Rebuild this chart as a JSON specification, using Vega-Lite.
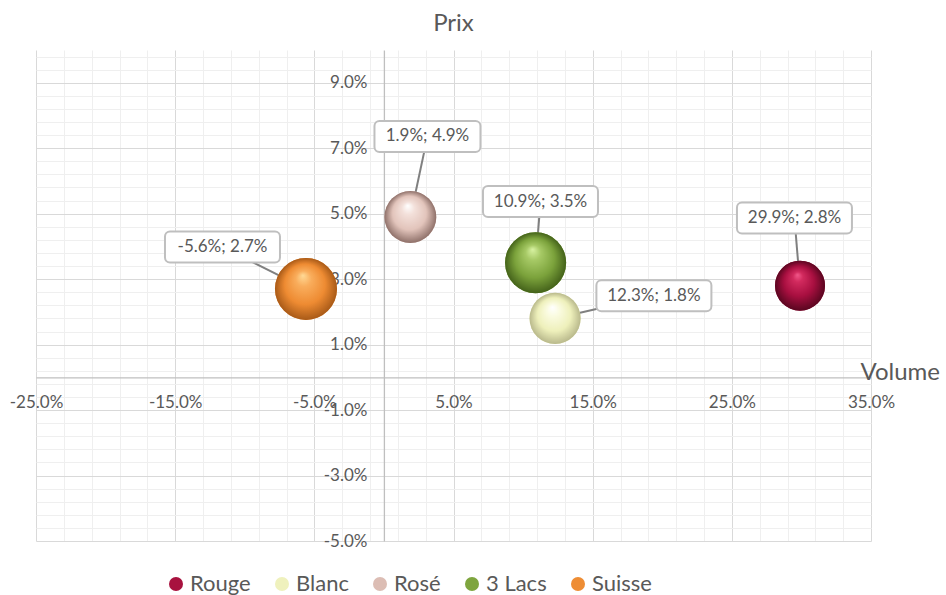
{
  "$schema": "https://vega.github.io/schema/vega-lite/v6.json",
  "width": 835,
  "height": 491,
  "autosize": {"type": "none"},
  "padding": {"left": 36, "top": 50, "right": 75, "bottom": 54},
  "background": "white",
  "config": {"view": {"stroke": null}, "font": "Lato"},
  "title": {"text": "Prix", "font": "Lato", "fontSize": 24, "fontWeight": "normal", "color": "#595959", "anchor": "middle", "offset": 12},
  "data": {
    "values": [
      {"serie": "Rouge", "volume": 0.299, "prix": 0.028, "taille": 65, "lx": 0.295, "ly": 0.0487},
      {"serie": "Blanc", "volume": 0.123, "prix": 0.018, "taille": 68, "lx": 0.194, "ly": 0.0249},
      {"serie": "Rosé", "volume": 0.019, "prix": 0.049, "taille": 70, "lx": 0.0313, "ly": 0.0736},
      {"serie": "3 Lacs", "volume": 0.109, "prix": 0.035, "taille": 97, "lx": 0.1125, "ly": 0.0537},
      {"serie": "Suisse", "volume": -0.056, "prix": 0.027, "taille": 100, "lx": -0.116, "ly": 0.0398}
    ]
  },
  "transform": [
    {"calculate": "replace(format(datum.volume, '.1%') + '; ' + format(datum.prix, '.1%'), '−', '-')", "as": "label"}
  ],
  "layer": [
    {
      "mark": {"type": "rule", "color": "#808080", "strokeWidth": 2},
      "encoding": {
        "x": {
          "field": "volume", "type": "quantitative",
          "scale": {"domain": [-0.25, 0.35], "nice": false, "zero": false},
          "axis": {
            "orient": "bottom", "offset": -163.7, "tickCount": 200,
            "values": [-0.25, -0.23, -0.21, -0.19, -0.17, -0.15, -0.13, -0.11, -0.09, -0.07, -0.05, -0.03, -0.01, 0.01, 0.03, 0.05, 0.07, 0.09, 0.11, 0.13, 0.15, 0.17, 0.19, 0.21, 0.23, 0.25, 0.27, 0.29, 0.31, 0.33, 0.35],
            "grid": true,
            "gridColor": {"condition": {"test": "abs(round(datum.value*100)) % 10 == 5", "value": "#d9d9d9"}, "value": "#efefef"},
            "gridWidth": 1,
            "labelExpr": "abs(round(datum.value*100)) % 10 == 5 ? replace(format(datum.value, '.1%'), '−', '-') : ''",
            "ticks": false, "labelPadding": 17,
            "labelFont": "Lato", "labelFontSize": 17, "labelColor": "#595959",
            "labelOverlap": false, "labelFlush": false, "labelBound": false,
            "domainColor": "#bfbfbf", "domainWidth": 1.3,
            "title": "Volume", "titleFont": "Lato", "titleFontSize": 24, "titleFontWeight": "normal", "titleColor": "#595959",
            "titleX": 824, "titleY": 2, "titleAlign": "left", "titleBaseline": "alphabetic", "titleAngle": 0
          }
        },
        "y": {
          "field": "prix", "type": "quantitative",
          "scale": {"domain": [-0.05, 0.10], "nice": false, "zero": false},
          "axis": {
            "orient": "left", "offset": -347.9, "tickCount": 200,
            "values": [-0.05, -0.046, -0.042, -0.038, -0.034, -0.03, -0.026, -0.022, -0.018, -0.014, -0.01, -0.006, -0.002, 0.002, 0.006, 0.01, 0.014, 0.018, 0.022, 0.026, 0.03, 0.034, 0.038, 0.042, 0.046, 0.05, 0.054, 0.058, 0.062, 0.066, 0.07, 0.074, 0.078, 0.082, 0.086, 0.09, 0.094, 0.098],
            "grid": true,
            "gridColor": {"condition": {"test": "abs(round(datum.value*1000)) % 20 == 10", "value": "#d9d9d9"}, "value": "#efefef"},
            "gridWidth": 1,
            "labelExpr": "abs(round(datum.value*1000)) % 20 == 10 ? replace(format(datum.value, '.1%'), '−', '-') : ''",
            "ticks": false, "labelPadding": 17,
            "labelFont": "Lato", "labelFontSize": 17, "labelColor": "#595959",
            "labelOverlap": false, "labelFlush": false, "labelBound": false,
            "domainColor": "#bfbfbf", "domainWidth": 1.3,
            "title": null
          }
        },
        "x2": {"field": "lx"},
        "y2": {"field": "ly"}
      }
    },
    {
      "mark": {"type": "point", "filled": true, "opacity": 1, "strokeWidth": 0},
      "encoding": {
        "x": {"field": "volume", "type": "quantitative", "scale": {"domain": [-0.25, 0.35], "nice": false, "zero": false}},
        "y": {"field": "prix", "type": "quantitative", "scale": {"domain": [-0.05, 0.10], "nice": false, "zero": false}},
        "size": {"field": "taille", "type": "quantitative", "scale": {"domain": [0, 100], "range": [0, 3844]}, "legend": null},
        "color": {
          "field": "serie", "type": "nominal",
          "scale": {"domain": ["Rouge", "Blanc", "Rosé", "3 Lacs", "Suisse"], "range": ["#a8123f", "#eff1bd", "#dcbdb4", "#7ea53e", "#ee8d34"]},
          "legend": {
            "orient": "none", "legendX": 129, "legendY": 523, "direction": "horizontal",
            "title": null, "symbolType": "circle", "symbolSize": 196, "symbolStrokeWidth": 0,
            "labelFont": "Lato", "labelFontSize": 22, "labelColor": "#595959",
            "labelOffset": 3, "columnPadding": 20
          }
        }
      }
    },
    {
      "mark": {"type": "point", "filled": true, "opacity": 1, "strokeWidth": 0},
      "encoding": {
        "x": {"field": "volume", "type": "quantitative", "scale": {"domain": [-0.25, 0.35], "nice": false, "zero": false}},
        "y": {"field": "prix", "type": "quantitative", "scale": {"domain": [-0.05, 0.10], "nice": false, "zero": false}},
        "size": {"field": "taille", "type": "quantitative", "scale": {"domain": [0, 100], "range": [0, 3844]}, "legend": null},
        "fill": {
          "condition": [
            {"test": "datum.serie == 'Rouge'", "value": {"gradient": "radial", "x1": 0.45, "y1": 0.28, "r1": 0, "x2": 0.5, "y2": 0.5, "r2": 0.5, "stops": [{"offset": 0, "color": "#f2588a"}, {"offset": 0.2, "color": "#d22a5e"}, {"offset": 0.6, "color": "#a80f40"}, {"offset": 1, "color": "#5a0620"}]}},
            {"test": "datum.serie == 'Blanc'", "value": {"gradient": "radial", "x1": 0.45, "y1": 0.28, "r1": 0, "x2": 0.5, "y2": 0.5, "r2": 0.5, "stops": [{"offset": 0, "color": "#ffffff"}, {"offset": 0.25, "color": "#fafbe0"}, {"offset": 0.65, "color": "#eef0bb"}, {"offset": 1, "color": "#b9b98c"}]}},
            {"test": "datum.serie == 'Rosé'", "value": {"gradient": "radial", "x1": 0.45, "y1": 0.28, "r1": 0, "x2": 0.5, "y2": 0.5, "r2": 0.5, "stops": [{"offset": 0, "color": "#ffffff"}, {"offset": 0.25, "color": "#f3e0da"}, {"offset": 0.65, "color": "#e2c4bb"}, {"offset": 1, "color": "#8f716a"}]}},
            {"test": "datum.serie == '3 Lacs'", "value": {"gradient": "radial", "x1": 0.45, "y1": 0.28, "r1": 0, "x2": 0.5, "y2": 0.5, "r2": 0.5, "stops": [{"offset": 0, "color": "#d8f2a2"}, {"offset": 0.25, "color": "#a6c965"}, {"offset": 0.65, "color": "#7ba23b"}, {"offset": 1, "color": "#44621a"}]}}
          ],
          "value": {"gradient": "radial", "x1": 0.45, "y1": 0.28, "r1": 0, "x2": 0.5, "y2": 0.5, "r2": 0.5, "stops": [{"offset": 0, "color": "#ffd995"}, {"offset": 0.25, "color": "#f9ad5c"}, {"offset": 0.65, "color": "#ee8b32"}, {"offset": 1, "color": "#a85a18"}]}
        }
      }
    },
    {
      "mark": {"type": "rect", "fill": "white", "stroke": "#bfbfbf", "strokeWidth": 2, "cornerRadius": 5, "width": {"expr": "length(datum.label) * 9 + 16"}, "height": 31},
      "encoding": {
        "x": {"field": "lx", "type": "quantitative", "scale": {"domain": [-0.25, 0.35], "nice": false, "zero": false}},
        "y": {"field": "ly", "type": "quantitative", "scale": {"domain": [-0.05, 0.10], "nice": false, "zero": false}}
      }
    },
    {
      "mark": {"type": "text", "font": "Lato", "fontSize": 17, "color": "#595959", "align": "center", "baseline": "middle"},
      "encoding": {
        "x": {"field": "lx", "type": "quantitative", "scale": {"domain": [-0.25, 0.35], "nice": false, "zero": false}},
        "y": {"field": "ly", "type": "quantitative", "scale": {"domain": [-0.05, 0.10], "nice": false, "zero": false}},
        "text": {"field": "label"}
      }
    }
  ]
}
